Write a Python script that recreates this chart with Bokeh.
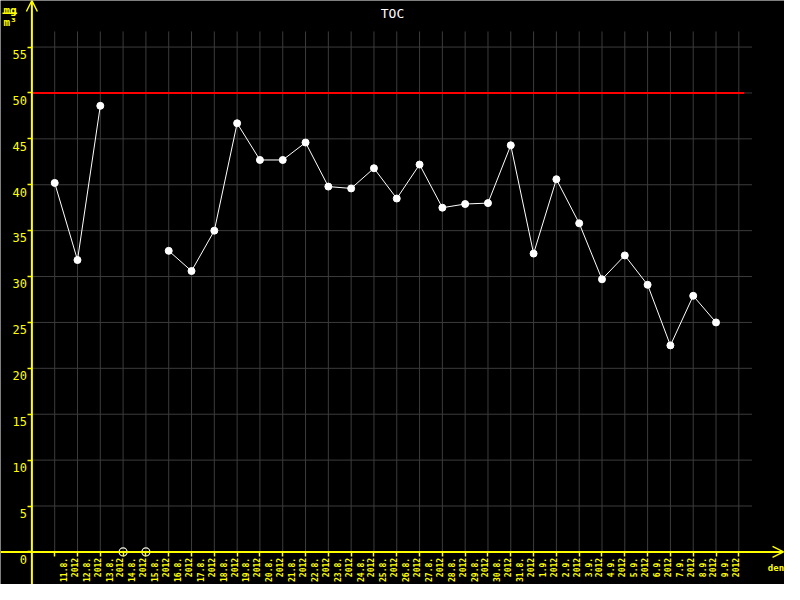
import math
from bokeh.plotting import figure
from bokeh.models import LinearAxis, FixedTicker, Range1d, Arrow, OpenHead, Label, ColumnDataSource
from bokeh.embed import file_html
from bokeh.resources import INLINE

# ---- data ----
DATES = ["11.8.", "12.8.", "13.8.", "14.8.", "15.8.", "16.8.", "17.8.", "18.8.", "19.8.", "20.8.",
         "21.8.", "22.8.", "23.8.", "24.8.", "25.8.", "26.8.", "27.8.", "28.8.", "29.8.", "30.8.",
         "31.8.", "1.9.", "2.9.", "3.9.", "4.9.", "5.9.", "6.9.", "7.9.", "8.9.", "9.9."]
YEAR = "2012"
NAN = float("nan")
TOC = [40.2, 31.8, 48.6, NAN, NAN, 32.8, 30.6, 35.0, 46.7, 42.7,
       42.7, 44.6, 39.8, 39.6, 41.8, 38.5, 42.2, 37.5, 37.9, 38.0,
       44.3, 32.5, 40.6, 35.8, 29.7, 32.3, 29.1, 22.5, 27.9, 25.0]
LIMIT = 50
Y_TICKS = [0, 5, 10, 15, 20, 25, 30, 35, 40, 45, 50, 55]
TITLE = "TOC"
UNIT_TOP = "mg"
UNIT_BOTTOM = "m³"
X_NAME = "den"

YELLOW = "#ffff00"
GRID = "#3c3c3c"
W, H = 784, 584

# ranges (reference image is 800x600)
X0, X1 = -2.3765, 32.003
Y0, Y1 = -3.552, 60.074
AXIS_X = -1          # y axis crosses here
GRID_TOP = 56.7
GRID_RIGHT = 30.58
LIMIT_RIGHT = 30.24


def dx(px):
    return X0 + px / 800.0 * (X1 - X0)


def dy(py):
    return Y1 - py / 600.0 * (Y1 - Y0)


p = figure(width=W, height=H, x_range=Range1d(X0, X1), y_range=Range1d(Y0, Y1),
           output_backend="svg", toolbar_location=None,
           x_axis_type=None, y_axis_type=None, min_border=0,
           background_fill_color="black", border_fill_color="black",
           outline_line_color=None)

n = len(DATES)
xs = list(range(n))
x_ticks = list(range(n + 1))

# grid
p.segment(x0=x_ticks, y0=[0] * len(x_ticks), x1=x_ticks, y1=[GRID_TOP] * len(x_ticks),
          line_color=GRID, line_width=1)
gy = [v for v in Y_TICKS if v > 0]
p.segment(x0=[AXIS_X] * len(gy), y0=gy, x1=[GRID_RIGHT] * len(gy), y1=gy,
          line_color=GRID, line_width=1)

# limit line
p.line([AXIS_X, LIMIT_RIGHT], [LIMIT, LIMIT], line_color="#ff0000", line_width=2)

# data
src = ColumnDataSource(dict(x=xs, y=TOC))
p.line("x", "y", source=src, line_color="white", line_width=1)
p.scatter("x", "y", source=src, size=7, fill_color="white", line_color="white")

# missing values marked on the axis
miss_x = [x for x, v in zip(xs, TOC) if math.isnan(v)]
p.scatter(miss_x, [0] * len(miss_x), size=8, fill_color=None, line_color="#f4f4e0", line_width=1.2)

# axis lines with arrows
p.add_layout(Arrow(x_start=AXIS_X, y_start=Y0, x_end=AXIS_X, y_end=Y1,
                   line_color=YELLOW, line_width=2,
                   end=OpenHead(size=11, line_color=YELLOW, line_width=1.5)))
p.add_layout(Arrow(x_start=X0, y_start=0, x_end=dx(799), y_end=0,
                   line_color=YELLOW, line_width=2,
                   end=OpenHead(size=11, line_color=YELLOW, line_width=1.5)))

# x axis: tick marks
xt_axis = LinearAxis(ticker=FixedTicker(ticks=x_ticks, minor_ticks=[]), fixed_location=0,
                     axis_line_color=None, major_tick_line_color=YELLOW, major_tick_line_width=1.5,
                     major_tick_out=5, major_tick_in=0,
                     major_label_overrides={t: "" for t in x_ticks},
                     minor_tick_line_color=None)
p.add_layout(xt_axis, "below")

# x axis: labels between ticks
XL_SHIFT = 0.67
label_pos = [x + XL_SHIFT for x in xs]
xl_axis = LinearAxis(ticker=FixedTicker(ticks=label_pos, minor_ticks=[]), fixed_location=0,
                     axis_line_color=None, major_tick_line_color=None, minor_tick_line_color=None,
                     major_tick_out=0, major_tick_in=0, major_label_standoff=6,
                     major_label_orientation=math.pi / 2,
                     major_label_overrides={pos: d + "\n" + YEAR for pos, d in zip(label_pos, DATES)},
                     major_label_text_color=YELLOW, major_label_text_font="DejaVu Sans Mono",
                     major_label_text_font_size="8px", major_label_text_font_style="bold")
p.add_layout(xl_axis, "below")

# y axis: tick marks
yt_axis = LinearAxis(ticker=FixedTicker(ticks=Y_TICKS, minor_ticks=[]), fixed_location=AXIS_X,
                     axis_line_color=None, major_tick_line_color=YELLOW, major_tick_line_width=1.5,
                     major_tick_out=4, major_tick_in=0,
                     major_label_overrides={t: "" for t in Y_TICKS},
                     minor_tick_line_color=None)
p.add_layout(yt_axis, "left")

# y axis: labels slightly below their ticks
YL_SHIFT = 0.8
ylab_pos = [v - YL_SHIFT for v in Y_TICKS]
yl_axis = LinearAxis(ticker=FixedTicker(ticks=ylab_pos, minor_ticks=[]), fixed_location=AXIS_X,
                     axis_line_color=None, major_tick_line_color=None, minor_tick_line_color=None,
                     major_tick_out=0, major_tick_in=0, major_label_standoff=5,
                     major_label_overrides={pos: str(v) for pos, v in zip(ylab_pos, Y_TICKS)},
                     major_label_text_color=YELLOW, major_label_text_font="DejaVu Sans Mono",
                     major_label_text_font_size="12px")
p.add_layout(yl_axis, "left")

# title and unit labels
p.add_layout(Label(x=dx(400), y=dy(13), text=TITLE, text_align="center", text_baseline="alphabetic",
                   text_color="white", text_font="DejaVu Sans Mono", text_font_size="13px"))
p.add_layout(Label(x=dx(3), y=dy(10), text=UNIT_TOP, text_align="left", text_baseline="alphabetic",
                   text_color=YELLOW, text_font="DejaVu Sans Mono", text_font_size="11px",
                   text_font_style="bold"))
p.add_layout(Label(x=dx(3), y=dy(23), text=UNIT_BOTTOM, text_align="left", text_baseline="alphabetic",
                   text_color=YELLOW, text_font="DejaVu Sans Mono", text_font_size="11px",
                   text_font_style="bold"))
p.segment(x0=[dx(2)], y0=[dy(13.2)], x1=[dx(17)], y1=[dy(13.2)], line_color=YELLOW, line_width=1.5)
p.add_layout(Label(x=dx(783), y=dy(583), text=X_NAME, text_align="left", text_baseline="alphabetic",
                   text_color=YELLOW, text_font="DejaVu Sans Mono", text_font_size="9px",
                   text_font_style="bold"))

open("out.html", "w").write(file_html(p, INLINE))
